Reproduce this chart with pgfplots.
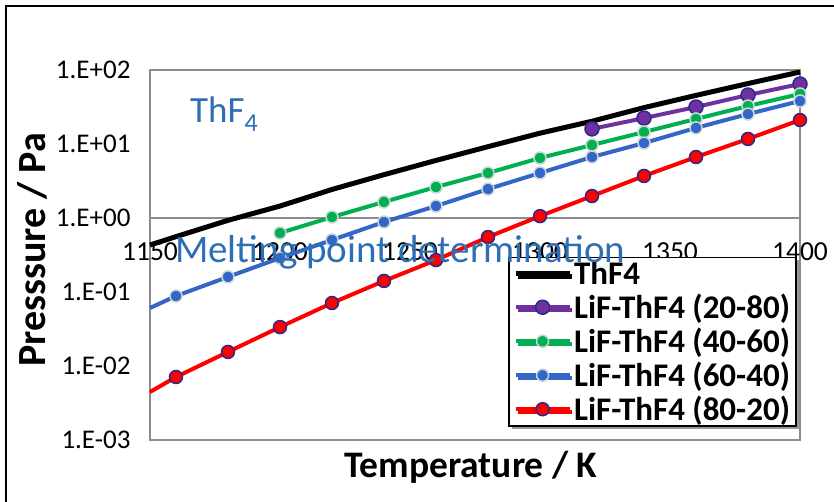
\documentclass[border=0pt]{standalone}
\usepackage{pgfplots}
\pgfplotsset{compat=1.18}
\usepackage{fontspec}
\setmainfont{Carlito}
\usetikzlibrary{shadows}
\definecolor{cpurple}{HTML}{7030A0}
\definecolor{cgreen}{HTML}{00B050}
\definecolor{cblue}{HTML}{3465C8}
\definecolor{cred}{HTML}{FF0000}
\definecolor{cnavy}{HTML}{2A2A8A}
\definecolor{clight}{HTML}{C9D6D6}
\definecolor{axgray}{HTML}{8C8C8C}
\definecolor{annblue}{HTML}{2E6EB4}
\begin{document}
\begin{tikzpicture}
\useasboundingbox (0,0) rectangle (834pt,502pt);
\draw[line width=2.5pt] (6pt,0pt) -- (6pt,496pt) -- (834pt,496pt);
\begin{axis}[
  at={(150pt,62pt)}, anchor=south west,
  scale only axis, width=650pt, height=370pt,
  xmin=1150, xmax=1400, ymode=log, ymin=1e-3, ymax=1e2,
  xtick={1150,1200,1250,1300,1350,1400},
  xticklabels={1150,1200,1250,1300,1350,1400},
  ytick={1e-3,1e-2,1e-1,1,10,100},
  yticklabels={1.E-03,1.E-02,1.E-01,1.E+00,1.E+01,1.E+02},
  major tick length=0pt, minor tick length=0pt,
  tick style={draw=none},
  axis line style={draw=axgray, line width=1.3pt},
  xticklabel style={font=\fontsize{27.5}{32}\selectfont, anchor=north, yshift=201pt},
  yticklabel style={font=\fontsize{27}{32}\selectfont, anchor=east, xshift=-16pt},
  extra y ticks={1}, extra y tick labels={},
  extra y tick style={grid=major, major grid style={draw=axgray, line width=1.3pt}},
  xlabel={Temperature / K},
  ylabel={Presssure / Pa},
  xlabel style={font=\bfseries\fontsize{37.5}{42}\selectfont, at={(axis description cs:0.4938,-0.1)}, anchor=base},
  ylabel style={font=\bfseries\fontsize{40}{44}\selectfont, at={(axis description cs:-0.1615,0.5135)}, anchor=base},
  clip=false,
  legend style={at={(0.995,0.495)}, anchor=north east, draw=black, line width=1.5pt,
    fill=white, drop shadow={shadow xshift=2.5pt, shadow yshift=-2.5pt, fill=gray!80, opacity=1},
    font=\bfseries\fontsize{33}{35}\selectfont, row sep=4pt, inner xsep=4pt, inner ysep=2pt},
  legend cell align=left,
  legend image code/.code={\draw[mark repeat=2,mark phase=2] plot coordinates {(0pt,0pt) (27pt,0pt) (54pt,0pt)};},
]
\addplot[black, line width=5pt, line join=round] coordinates {
(1150,0.431) (1160,0.56) (1180,0.93) (1200,1.45) (1220,2.43) (1240,3.85) (1260,6.0)
(1280,9.2) (1300,14.0) (1320,20.3) (1340,31.0) (1360,45.4) (1380,65.6) (1400,94.0)};
\addlegendentry{ThF4}
\addplot[cpurple, line width=4pt, mark=*, mark size=7pt, mark options={fill=cpurple, draw=cnavy, line width=1.5pt}] coordinates {
(1320,16.0) (1340,22.4) (1360,31.6) (1380,45.9) (1400,64.7)};
\addlegendentry{LiF-ThF4 (20-80)}
\addplot[cgreen, line width=4pt, mark=*, mark size=6pt, mark options={fill=cgreen, draw=clight, line width=1.5pt}] coordinates {
(1200,0.627) (1220,1.03) (1240,1.65) (1260,2.62) (1280,4.06) (1300,6.47) (1320,9.69)
(1340,14.5) (1360,21.8) (1380,32.6) (1400,47.4)};
\addlegendentry{LiF-ThF4 (40-60)}
\addplot[cblue, line width=4pt, forget plot] coordinates {(1150,0.0608) (1160,0.0883)};
\addplot[cblue, line width=4pt, mark=*, mark size=6pt, mark options={fill=cblue, draw=clight, line width=1.5pt}] coordinates {
(1160,0.0883) (1180,0.160) (1200,0.288) (1220,0.505) (1240,0.883) (1260,1.45) (1280,2.46)
(1300,4.06) (1320,6.67) (1340,10.3) (1360,16.5) (1380,25.4) (1400,38.1)};
\addlegendentry{LiF-ThF4 (60-40)}
\addplot[cred, line width=4pt, forget plot] coordinates {(1150,0.00445) (1160,0.0071)};
\addplot[cred, line width=4pt, mark=*, mark size=6.5pt, mark options={fill=cred, draw=cnavy, line width=1.5pt}] coordinates {
(1160,0.0071) (1180,0.0155) (1200,0.0336) (1220,0.071) (1240,0.141) (1260,0.27) (1280,0.553)
(1300,1.06) (1320,1.98) (1340,3.70) (1360,6.67) (1380,11.7) (1400,21.1)};
\addlegendentry{LiF-ThF4 (80-20)}
\end{axis}
\node[anchor=base west, inner sep=0pt, text=annblue, font=\fontsize{37}{42}\selectfont] at (190pt,379pt) {ThF\textsubscript{4}};
\node[anchor=base west, inner sep=0pt, text=annblue, font=\fontsize{39}{44}\selectfont] at (175pt,239pt) {Melting point determination};
\end{tikzpicture}
\end{document}
